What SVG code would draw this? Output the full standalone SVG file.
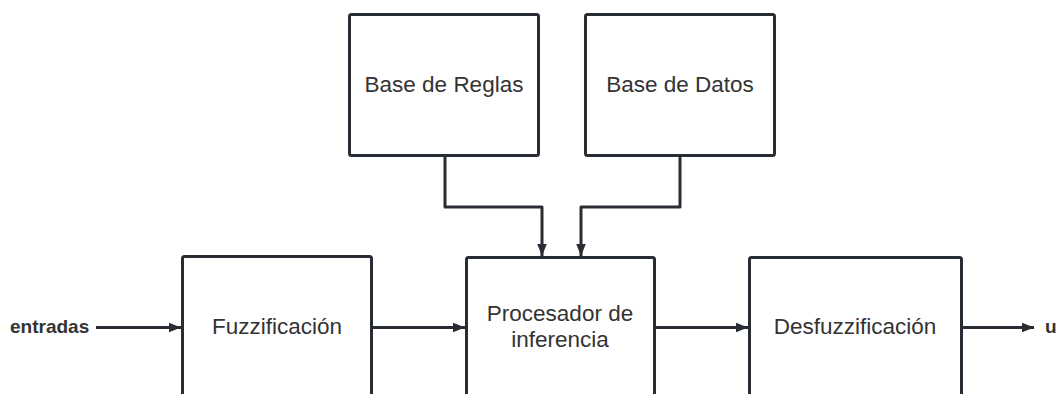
<svg xmlns="http://www.w3.org/2000/svg" width="1058" height="394" viewBox="0 0 1058 394">
  <style>
    .box { fill: #ffffff; stroke: #282c33; stroke-width: 3; }
    .lbl { font-family: "Liberation Sans", Arial, sans-serif; font-size: 22.5px; fill: #333333; text-anchor: middle; }
    .io { font-family: "Liberation Sans", Arial, sans-serif; font-size: 19px; font-weight: bold; fill: #333333; }
    .wire { fill: none; stroke: #282c33; stroke-width: 3; stroke-linejoin: round; }
  </style>
  <defs>
    <marker id="arrow" viewBox="0 0 10 10" refX="10" refY="5" markerWidth="4" markerHeight="4" markerUnits="strokeWidth" orient="auto">
      <path d="M0,1 L10,5 L0,9 Z" fill="#282c33"/>
    </marker>
  </defs>
  <rect width="1058" height="394" fill="#ffffff"/>

  <g id="connectors">
    <path class="wire" d="M96,327.5 H181" marker-end="url(#arrow)"/>
    <path class="wire" d="M372,327.5 H465" marker-end="url(#arrow)"/>
    <path class="wire" d="M655,327.5 H748" marker-end="url(#arrow)"/>
    <path class="wire" d="M962,327.5 H1034" marker-end="url(#arrow)"/>
    <path class="wire" d="M445,156 V207 H542 V256" marker-end="url(#arrow)"/>
    <path class="wire" d="M680,156 V207 H581 V256" marker-end="url(#arrow)"/>
  </g>

  <g id="base-reglas">
    <rect class="box" x="349.5" y="14.5" width="189" height="141" rx="2"/>
    <text class="lbl" x="444" y="92">Base de Reglas</text>
  </g>
  <g id="base-datos">
    <rect class="box" x="585.5" y="14.5" width="189" height="141" rx="2"/>
    <text class="lbl" x="680" y="92">Base de Datos</text>
  </g>
  <g id="fuzzificacion">
    <rect class="box" x="182.5" y="256.5" width="189" height="145" rx="2"/>
    <text class="lbl" x="277" y="334">Fuzzificación</text>
  </g>
  <g id="procesador">
    <rect class="box" x="466.5" y="257.5" width="188" height="145" rx="2"/>
    <text class="lbl" x="560" y="321">Procesador de</text>
    <text class="lbl" x="560" y="347">inferencia</text>
  </g>
  <g id="desfuzzificacion">
    <rect class="box" x="749.5" y="257.5" width="212" height="145" rx="2"/>
    <text class="lbl" x="855" y="334">Desfuzzificación</text>
  </g>

  <g id="entradas">
    <text class="io" x="10" y="333">entradas</text>
  </g>
  <g id="salida">
    <text class="io" x="1045" y="333">u</text>
  </g>
</svg>
